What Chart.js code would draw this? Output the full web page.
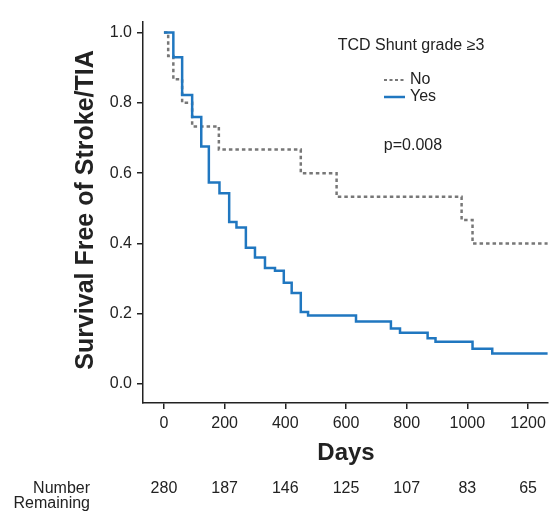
<!DOCTYPE html>
<html lang="en">
<head>
    <meta charset="UTF-8">
    <title>Survival Free of Stroke/TIA</title>
    <script src="https://cdn.jsdelivr.net/npm/chart.js"></script>
    <style>
        body { margin: 0; background: #fff; }
        #wrap { width: 551px; height: 512px; }
    </style>
</head>
<body>
    <div id="wrap">
        <canvas id="kmChart" width="551" height="512"></canvas>
    </div>

    <script>
        // Kaplan-Meier steps (day of event, survival after it)
        const noDays = [0, 14, 31, 60, 93, 181, 451, 569, 981, 1017, 1265];
        const noSurv = [1.0, 0.933, 0.867, 0.8, 0.733, 0.667, 0.6, 0.533, 0.467, 0.4, 0.4];

        const yesDays = [0, 31, 60, 93, 123, 148, 183, 215, 239, 270, 300, 333, 366, 395, 421, 451, 475, 633, 748, 778, 869, 895, 1017, 1082, 1265];
        const yesSurv = [1.0, 0.93, 0.822, 0.76, 0.676, 0.573, 0.543, 0.461, 0.445, 0.388, 0.36, 0.33, 0.322, 0.288, 0.259, 0.205, 0.195, 0.178, 0.158, 0.146, 0.13, 0.12, 0.1, 0.087, 0.087];

        const xTicks = [0, 200, 400, 600, 800, 1000, 1200];
        const yTicks = [0, 0.2, 0.4, 0.6, 0.8, 1.0];
        const numberRemaining = [280, 187, 146, 125, 107, 83, 65];

        const FONT = "'Liberation Sans', Arial, sans-serif";
        const INK = '#222';

        function toPoints(xs, ys) {
            return xs.map((x, i) => ({ x: x, y: ys[i] }));
        }

        // Text around the plot: axis titles, legend, p value, numbers at risk
        const annotations = {
            id: 'annotations',
            afterDraw(chart) {
                const ctx = chart.ctx;
                const xScale = chart.scales.x;
                ctx.save();
                ctx.fillStyle = INK;

                // y title
                ctx.save();
                ctx.translate(86, 210);
                ctx.rotate(-Math.PI / 2);
                ctx.font = 'bold 25px ' + FONT;
                ctx.textAlign = 'center';
                ctx.textBaseline = 'middle';
                ctx.fillText('Survival Free of Stroke/TIA', 0, 0);
                ctx.restore();

                // x title
                ctx.font = 'bold 24px ' + FONT;
                ctx.textAlign = 'center';
                ctx.textBaseline = 'middle';
                ctx.fillText('Days', 346, 453);

                // legend
                ctx.font = '16px ' + FONT;
                ctx.fillText('TCD Shunt grade \u22653', 411, 46);
                ctx.fillText('p=0.008', 413, 146);

                ctx.textAlign = 'left';
                ctx.fillText('No', 410, 80);
                ctx.fillText('Yes', 410, 97);

                ctx.lineWidth = 2;
                ctx.strokeStyle = '#777';
                ctx.setLineDash([3, 2.5]);
                ctx.beginPath();
                ctx.moveTo(384, 80);
                ctx.lineTo(405, 80);
                ctx.stroke();
                ctx.setLineDash([]);
                ctx.lineWidth = 2.5;
                ctx.strokeStyle = '#2077c0';
                ctx.beginPath();
                ctx.moveTo(384, 97);
                ctx.lineTo(405, 97);
                ctx.stroke();

                // numbers remaining
                ctx.fillStyle = INK;
                ctx.textAlign = 'right';
                ctx.fillText('Number', 90, 489);
                ctx.fillText('Remaining', 90, 504);
                ctx.textAlign = 'center';
                numberRemaining.forEach((n, i) => {
                    ctx.fillText(String(n), xScale.getPixelForValue(xTicks[i]), 489);
                });
                ctx.restore();
            }
        };

        new Chart(document.getElementById('kmChart'), {
            type: 'line',
            data: {
                datasets: [{
                    label: 'Yes',
                    data: toPoints(yesDays, yesSurv),
                    borderColor: '#2077c0',
                    borderWidth: 2.5,
                    stepped: true,
                    pointRadius: 0,
                    fill: false,
                    order: 0
                }, {
                    label: 'No',
                    data: toPoints(noDays, noSurv),
                    borderColor: '#777',
                    borderWidth: 2.5,
                    borderDash: [3.5, 3],
                    stepped: true,
                    pointRadius: 0,
                    fill: false,
                    order: 1
                }]
            },
            options: {
                responsive: false,
                animation: false,
                events: [],
                layout: { padding: { top: 22, right: 3, left: 0, bottom: 0 } },
                plugins: {
                    legend: { display: false },
                    tooltip: { enabled: false }
                },
                scales: {
                    x: {
                        type: 'linear',
                        min: -69,
                        max: 1265,
                        afterBuildTicks: scale => { scale.ticks = xTicks.map(v => ({ value: v })); },
                        afterFit: scale => { scale.height = 109; },
                        grid: { display: true, drawOnChartArea: false, drawTicks: true, tickLength: 6, color: INK, lineWidth: 1.5 },
                        border: { display: true, color: INK, width: 1.5 },
                        ticks: { color: INK, font: { family: FONT, size: 16 }, padding: 5, maxRotation: 0, callback: v => String(v) }
                    },
                    y: {
                        min: -0.054,
                        max: 1.03,
                        afterBuildTicks: scale => { scale.ticks = yTicks.map(v => ({ value: v })); },
                        afterFit: scale => { scale.width = 143; },
                        grid: { display: true, drawOnChartArea: false, drawTicks: true, tickLength: 6, color: INK, lineWidth: 1.5 },
                        border: { display: true, color: INK, width: 1.5 },
                        ticks: { color: INK, font: { family: FONT, size: 16 }, padding: 5, callback: v => v.toFixed(1) }
                    }
                }
            },
            plugins: [annotations]
        });
    </script>
</body>
</html>
